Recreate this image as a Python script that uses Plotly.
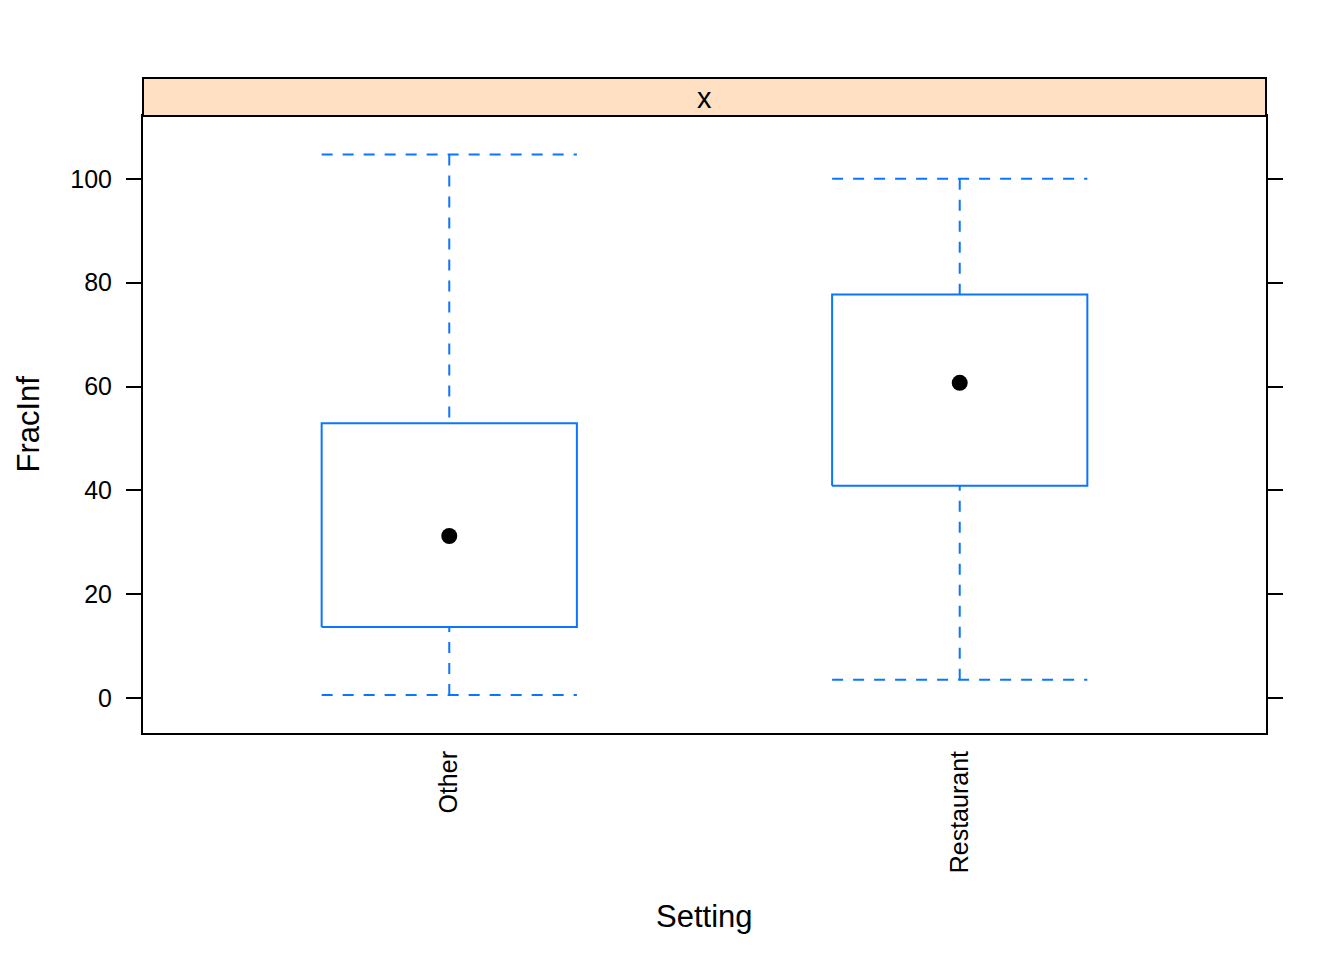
import plotly.graph_objects as go

categories = ["Other", "Restaurant"]
lower_whisker = [0.6, 3.5]
q1 = [13.7, 40.9]
median = [31.2, 60.7]
q3 = [52.9, 77.7]
upper_whisker = [104.7, 100.0]
y_ticks = [0, 20, 40, 60, 80, 100]

BLUE = "#0a75ff"
FONT = "Liberation Sans, Arial, Helvetica, sans-serif"
half = 0.25
DASH = "11px,10px"

fig = go.Figure()
pos = list(range(1, len(categories) + 1))
for i, p in enumerate(pos):
    # box
    fig.add_trace(go.Scatter(
        x=[p - half, p + half, p + half, p - half, p - half],
        y=[q1[i], q1[i], q3[i], q3[i], q1[i]],
        mode="lines", line=dict(color=BLUE, width=2), showlegend=False, hoverinfo="skip"))
    # upper whisker
    fig.add_trace(go.Scatter(
        x=[p, p], y=[upper_whisker[i], q3[i]],
        mode="lines", line=dict(color=BLUE, width=2, dash=DASH), showlegend=False, hoverinfo="skip"))
    fig.add_trace(go.Scatter(
        x=[p - half, p + half], y=[upper_whisker[i], upper_whisker[i]],
        mode="lines", line=dict(color=BLUE, width=2, dash=DASH), showlegend=False, hoverinfo="skip"))
    # lower whisker
    fig.add_trace(go.Scatter(
        x=[p, p], y=[lower_whisker[i], q1[i]],
        mode="lines", line=dict(color=BLUE, width=2, dash=DASH), showlegend=False, hoverinfo="skip"))
    fig.add_trace(go.Scatter(
        x=[p - half, p + half], y=[lower_whisker[i], lower_whisker[i]],
        mode="lines", line=dict(color=BLUE, width=2, dash=DASH), showlegend=False, hoverinfo="skip"))

# medians as dots
fig.add_trace(go.Scatter(
    x=pos, y=median, mode="markers",
    marker=dict(color="black", size=16), showlegend=False, hoverinfo="skip"))

fig.update_layout(
    width=1336, height=952,
    margin=dict(l=135, r=78, t=108, b=227),
    paper_bgcolor="white", plot_bgcolor="white",
    font=dict(family=FONT, color="black", size=25),
    xaxis=dict(
        range=[0.4, len(categories) + 0.6],
        tickvals=pos, ticktext=categories, tickangle=-90,
        ticks="", showgrid=False, zeroline=False,
        showline=True, linecolor="black", linewidth=2, mirror=True,
        tickfont=dict(size=25, family=FONT), ticklabelstandoff=6,
    ),
    yaxis=dict(
        range=[-6.74, 112.1],
        tickvals=y_ticks, ticks="outside", ticklen=15, tickwidth=2, tickcolor="black",
        showgrid=False, zeroline=False,
        showline=True, linecolor="black", linewidth=2, mirror="ticks",
        tickfont=dict(size=25, family=FONT), ticklabelstandoff=9,
    ),
)

strip_h = 38 / 617
fig.add_shape(type="rect", xref="paper", yref="paper",
              x0=0, x1=1, y0=1, y1=1 + strip_h,
              fillcolor="#ffe0c2", line=dict(color="black", width=2), layer="above")
fig.add_annotation(text="x", xref="paper", yref="paper", x=0.5, y=1 + strip_h / 2,
                   yshift=-1,
                   showarrow=False, font=dict(size=29, family=FONT), xanchor="center", yanchor="middle")

fig.add_annotation(text="FracInf", xref="paper", yref="paper", x=-0.1024, y=0.5,
                   textangle=-90, showarrow=False, font=dict(size=31, family=FONT),
                   xanchor="center", yanchor="middle")
fig.add_annotation(text="Setting", xref="paper", yref="paper", x=0.5, y=-0.298,
                   showarrow=False, font=dict(size=31, family=FONT),
                   xanchor="center", yanchor="middle")

fig.write_html("out.html")
